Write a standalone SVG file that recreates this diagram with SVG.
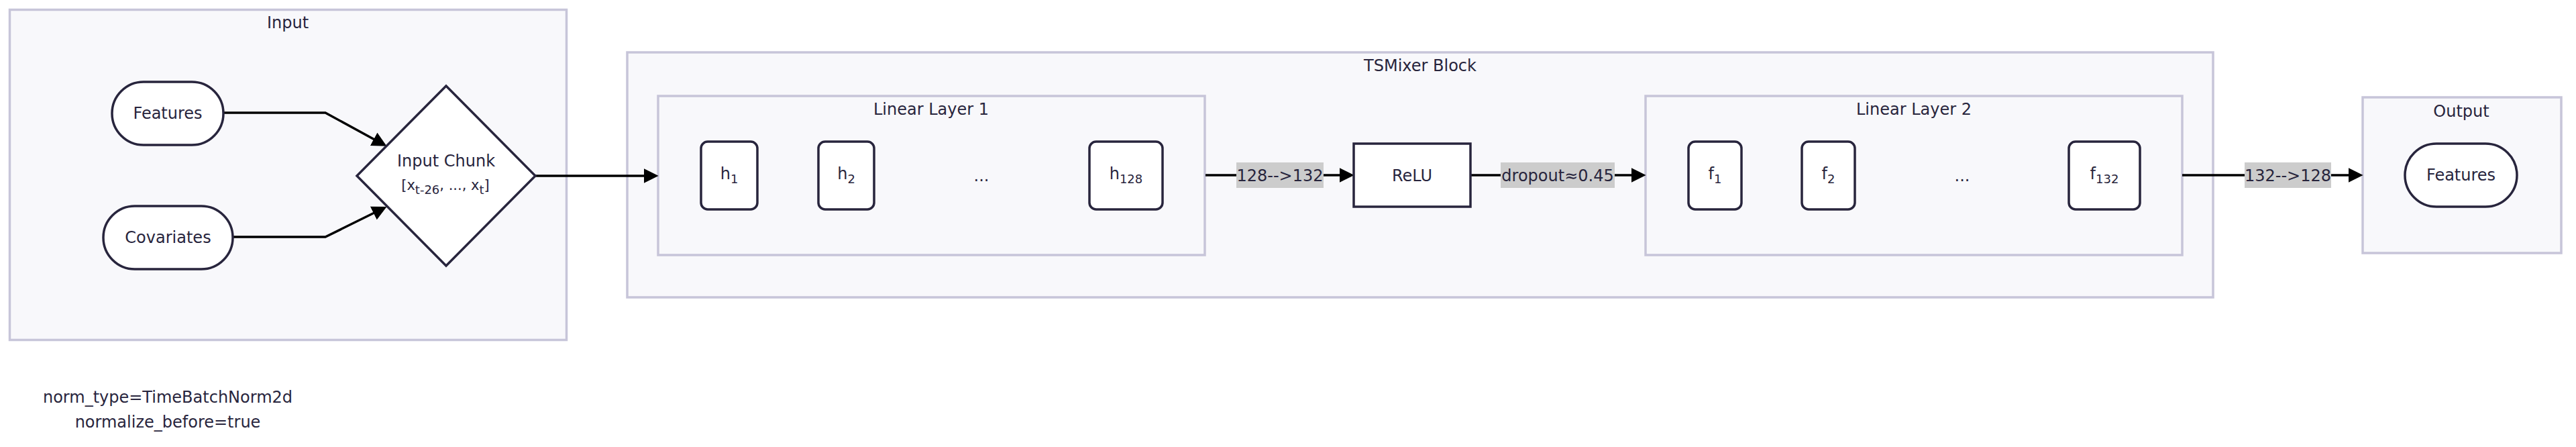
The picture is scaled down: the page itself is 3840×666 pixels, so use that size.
<svg xmlns="http://www.w3.org/2000/svg" width="3840" height="666" viewBox="0 0 3840 666">
<style>
text{font-family:"DejaVu Sans","Liberation Sans",sans-serif;font-size:24px;fill:#28253d;text-anchor:middle}
.cl{fill:#f8f8fb;stroke:#c7c5d9;stroke-width:3.5}
.nd{fill:#ffffff;stroke:#28253d;stroke-width:3.5}
.ed{fill:none;stroke:#000000;stroke-width:3.5}
.lb{fill:#cccccc}
.sub{font-size:18px}
</style>
<defs>
<marker id="ah" markerUnits="userSpaceOnUse" markerWidth="22" markerHeight="22" viewBox="0 0 20 20" refX="14" refY="10" orient="auto">
<path d="M0,0 L20,10 L0,20 z" fill="#000000"/>
</marker>
</defs>
<rect width="3840" height="666" fill="#ffffff"/>
<g id="cluster-input">
<rect class="cl" x="14.5" y="14.5" width="830" height="492"/>
<text x="429" y="42">Input</text>
</g>
<g id="cluster-tsmixer">
<rect class="cl" x="935" y="78" width="2364" height="365"/>
<text x="2117" y="106">TSMixer Block</text>
</g>
<g id="cluster-ll1">
<rect class="cl" x="981" y="143" width="815" height="237"/>
<text x="1388" y="171">Linear Layer 1</text>
</g>
<g id="cluster-ll2">
<rect class="cl" x="2453" y="143" width="800" height="237"/>
<text x="2853" y="171">Linear Layer 2</text>
</g>
<g id="cluster-output">
<rect class="cl" x="3522" y="145" width="296" height="232"/>
<text x="3669" y="174">Output</text>
</g>
<g id="connectors">
<path class="ed" d="M333,168 L485,168 L570.7,214.7" marker-end="url(#ah)"/>
<path class="ed" d="M347,353 L485,353 L570.6,310.8" marker-end="url(#ah)"/>
<path class="ed" d="M798,262 L975,262" marker-end="url(#ah)"/>
<path class="ed" d="M1797,261 L2012,261" marker-end="url(#ah)"/>
<path class="ed" d="M2192,261 L2447,261" marker-end="url(#ah)"/>
<path class="ed" d="M3253,261 L3516,261" marker-end="url(#ah)"/>
<g id="label-1">
<rect class="lb" x="1843" y="242" width="130" height="38"/>
<text x="1908" y="270">128--&gt;132</text>
</g>
<g id="label-2">
<rect class="lb" x="2237" y="242" width="170" height="38"/>
<text x="2322" y="270">dropout≈0.45</text>
</g>
<g id="label-3">
<rect class="lb" x="3346" y="242" width="129" height="38"/>
<text x="3410.5" y="270">132--&gt;128</text>
</g>
</g>
<g id="node-features-in">
<rect class="nd" x="167" y="122" width="166" height="94" rx="47"/>
<text x="250" y="177">Features</text>
</g>
<g id="node-covariates">
<rect class="nd" x="154" y="307" width="193" height="94" rx="47"/>
<text x="250.5" y="362">Covariates</text>
</g>
<g id="node-input-chunk">
<path class="nd" d="M665,128 L798,262 L665,396 L532,262 Z"/>
<text x="665" y="248">Input Chunk</text>
<text x="664" y="283" style="font-size:21px">[x<tspan class="sub" dy="6">t-26</tspan><tspan dy="-6">, ..., x</tspan><tspan class="sub" dy="6">t</tspan><tspan dy="-6">]</tspan></text>
</g>
<g id="node-h1">
<rect class="nd" x="1045" y="211" width="84" height="101" rx="10"/>
<text x="1087" y="267">h<tspan class="sub" dy="6">1</tspan></text>
</g>
<g id="node-h2">
<rect class="nd" x="1220" y="211" width="83" height="101" rx="10"/>
<text x="1261.5" y="267">h<tspan class="sub" dy="6">2</tspan></text>
</g>
<g id="node-hdots">
<text x="1463" y="270">...</text>
</g>
<g id="node-h128">
<rect class="nd" x="1624" y="211" width="109" height="101" rx="10"/>
<text x="1678.5" y="267">h<tspan class="sub" dy="6">128</tspan></text>
</g>
<g id="node-relu">
<rect class="nd" x="2018" y="214" width="174" height="94"/>
<text x="2105" y="270">ReLU</text>
</g>
<g id="node-f1">
<rect class="nd" x="2517" y="211" width="79" height="101" rx="10"/>
<text x="2556.5" y="267">f<tspan class="sub" dy="6">1</tspan></text>
</g>
<g id="node-f2">
<rect class="nd" x="2686" y="211" width="79" height="101" rx="10"/>
<text x="2725.5" y="267">f<tspan class="sub" dy="6">2</tspan></text>
</g>
<g id="node-fdots">
<text x="2925" y="270">...</text>
</g>
<g id="node-f132">
<rect class="nd" x="3084" y="211" width="106" height="101" rx="10"/>
<text x="3137" y="267">f<tspan class="sub" dy="6">132</tspan></text>
</g>
<g id="node-features-out">
<rect class="nd" x="3585" y="214" width="167" height="94" rx="47"/>
<text x="3668.5" y="269">Features</text>
</g>
<g id="note">
<text x="250" y="600">norm_type=TimeBatchNorm2d</text>
<text x="250" y="637">normalize_before=true</text>
</g>
</svg>
